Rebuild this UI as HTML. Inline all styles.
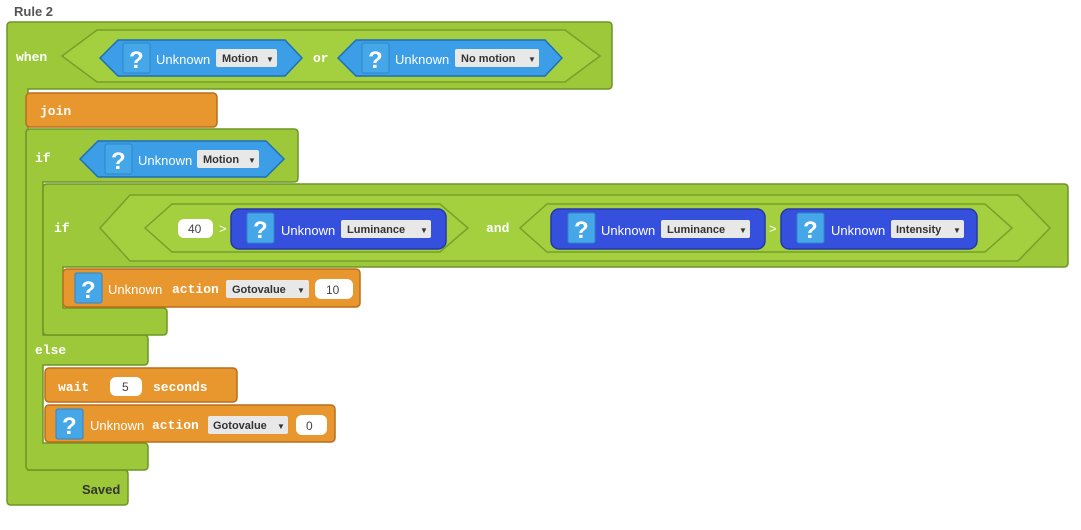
<!DOCTYPE html>
<html><head><meta charset="utf-8"><style>
body{margin:0;background:#fff;width:1081px;height:525px;overflow:hidden}
svg text{font-family:"Liberation Sans",sans-serif}
.kw{font-family:"Liberation Mono",monospace;font-weight:bold;font-size:13px;fill:#fff}
.un{font-size:13px;fill:#fff}
.dd{font-size:11px;font-weight:bold;fill:#333}
.q{font-size:24px;font-weight:bold;fill:#fff}
.num{font-size:12px;fill:#444}
</style></head><body>
<svg width="1081" height="525" xmlns="http://www.w3.org/2000/svg">
<defs>
<g id="qi"><rect x="0" y="0" width="27" height="30" rx="2" fill="#45a6e8" stroke="#2e86c8"/><text x="6" y="25" class="q">?</text></g>
</defs>
<text x="14" y="16" font-size="13" font-weight="bold" fill="#555">Rule 2</text>
<!-- outer green -->
<g fill="#9cc83a" stroke="#6e9626" stroke-width="1.5">
<path d="M7,26 q0,-4 4,-4 H608 q4,0 4,4 V85 q0,4 -4,4 H28 V470 H124 q4,0 4,4 V501 q0,4 -4,4 H11 q-4,0 -4,-4 Z"/>
</g>
<polygon points="62,56 97,30 565,30 600,56 565,82 97,82" fill="#a4cf3e" stroke="#76a02b" stroke-width="1.5"/>
<text x="16" y="61" class="kw">when</text>
<polygon points="100,58 118,40 285,40 302,58 285,76 118,76" fill="#3b9ee6" stroke="#1f6fb8" stroke-width="1.5"/>
<use href="#qi" x="123" y="43"/>
<text x="156" y="64" class="un">Unknown</text>
<rect x="216" y="49" width="61" height="18" rx="2" fill="#e8e8e8"/><text x="222" y="62" class="dd">Motion</text><text x="266" y="62" font-size="8" fill="#333">▼</text>
<text x="313" y="62" class="kw">or</text>
<polygon points="338,58 356,40 545,40 562,58 545,76 356,76" fill="#3b9ee6" stroke="#1f6fb8" stroke-width="1.5"/>
<use href="#qi" x="362" y="43"/>
<text x="395" y="64" class="un">Unknown</text>
<rect x="455" y="49" width="84" height="18" rx="2" fill="#e8e8e8"/><text x="461" y="62" class="dd">No motion</text><text x="528" y="62" font-size="8" fill="#333">▼</text>
<text x="82" y="494" font-size="13" font-weight="bold" fill="#333">Saved</text>
<!-- join -->
<rect x="26" y="93" width="191" height="34" rx="4" fill="#e8962e" stroke="#b86e1c" stroke-width="1.5"/>
<text x="40" y="115" class="kw">join</text>
<!-- if block -->
<path d="M26,133 q0,-4 4,-4 H294 q4,0 4,4 V178 q0,4 -4,4 H43 V335 H144 q4,0 4,4 V361 q0,4 -4,4 H43 V443 H144 q4,0 4,4 V466 q0,4 -4,4 H30 q-4,0 -4,-4 Z" fill="#9cc83a" stroke="#6e9626" stroke-width="1.5"/>
<text x="35" y="162" class="kw">if</text>
<text x="35" y="354" class="kw">else</text>
<polygon points="80,159 98,141 266,141 284,159 266,177 98,177" fill="#3b9ee6" stroke="#1f6fb8" stroke-width="1.5"/>
<use href="#qi" x="105" y="144"/>
<text x="138" y="165" class="un">Unknown</text>
<rect x="197" y="150" width="62" height="18" rx="2" fill="#e8e8e8"/><text x="203" y="163" class="dd">Motion</text><text x="248" y="163" font-size="8" fill="#333">▼</text>
<!-- inner if -->
<path d="M43,188 q0,-4 4,-4 H1064 q4,0 4,4 V263 q0,4 -4,4 H63 V308 H163 q4,0 4,4 V331 q0,4 -4,4 H47 q-4,0 -4,-4 Z" fill="#9cc83a" stroke="#6e9626" stroke-width="1.5"/>
<text x="54" y="232" class="kw">if</text>
<polygon points="100,228 130,195 1018,195 1050,228 1018,261 130,261" fill="#a4cf3e" stroke="#76a02b" stroke-width="1.5"/>
<polygon points="145,228 172,204 440,204 468,228 440,252 172,252" fill="#a4cf3e" stroke="#76a02b" stroke-width="1.5"/>
<rect x="178" y="219" width="35" height="19" rx="6" fill="#fff"/><text x="188" y="233" class="num">40</text>
<text x="219" y="233" class="un">&gt;</text>
<rect x="231" y="209" width="215" height="40" rx="8" fill="#3450dc" stroke="#2438a8" stroke-width="1.5"/>
<use href="#qi" x="247" y="213"/>
<text x="281" y="235" class="un">Unknown</text>
<rect x="341" y="220" width="90" height="18" rx="2" fill="#e8e8e8"/><text x="347" y="233" class="dd">Luminance</text><text x="420" y="233" font-size="8" fill="#333">▼</text>
<text x="486" y="232" class="kw">and</text>
<polygon points="520,228 547,204 985,204 1012,228 985,252 547,252" fill="#a4cf3e" stroke="#76a02b" stroke-width="1.5"/>
<rect x="551" y="209" width="214" height="40" rx="8" fill="#3450dc" stroke="#2438a8" stroke-width="1.5"/>
<use href="#qi" x="568" y="213"/>
<text x="601" y="235" class="un">Unknown</text>
<rect x="661" y="220" width="89" height="18" rx="2" fill="#e8e8e8"/><text x="667" y="233" class="dd">Luminance</text><text x="739" y="233" font-size="8" fill="#333">▼</text>
<text x="769" y="233" class="un">&gt;</text>
<rect x="781" y="209" width="196" height="40" rx="8" fill="#3450dc" stroke="#2438a8" stroke-width="1.5"/>
<use href="#qi" x="797" y="213"/>
<text x="831" y="235" class="un">Unknown</text>
<rect x="891" y="220" width="73" height="18" rx="2" fill="#e8e8e8"/><text x="896" y="233" class="dd">Intensity</text><text x="953" y="233" font-size="8" fill="#333">▼</text>
<!-- action 1 -->
<rect x="63" y="269" width="297" height="38" rx="4" fill="#e8962e" stroke="#b86e1c" stroke-width="1.5"/>
<use href="#qi" x="75" y="273"/>
<text x="108" y="294" class="un">Unknown</text><text x="172" y="293" class="kw">action</text>
<rect x="226" y="280" width="83" height="18" rx="2" fill="#e8e8e8"/><text x="232" y="293" class="dd">Gotovalue</text><text x="297" y="293" font-size="8" fill="#333">▼</text>
<rect x="315" y="279" width="38" height="20" rx="6" fill="#fff"/><text x="326" y="294" class="num">10</text>
<!-- wait -->
<rect x="45" y="368" width="192" height="34" rx="4" fill="#e8962e" stroke="#b86e1c" stroke-width="1.5"/>
<text x="58" y="391" class="kw">wait</text>
<rect x="110" y="377" width="32" height="19" rx="6" fill="#fff"/><text x="122" y="391" class="num">5</text>
<text x="153" y="391" class="kw">seconds</text>
<!-- action 2 -->
<rect x="45" y="405" width="290" height="37" rx="4" fill="#e8962e" stroke="#b86e1c" stroke-width="1.5"/>
<use href="#qi" x="56" y="409"/>
<text x="90" y="430" class="un">Unknown</text><text x="152" y="429" class="kw">action</text>
<rect x="208" y="416" width="80" height="18" rx="2" fill="#e8e8e8"/><text x="213" y="429" class="dd">Gotovalue</text><text x="277" y="429" font-size="8" fill="#333">▼</text>
<rect x="296" y="415" width="31" height="20" rx="6" fill="#fff"/><text x="306" y="430" class="num">0</text>
</svg>
</body></html>
